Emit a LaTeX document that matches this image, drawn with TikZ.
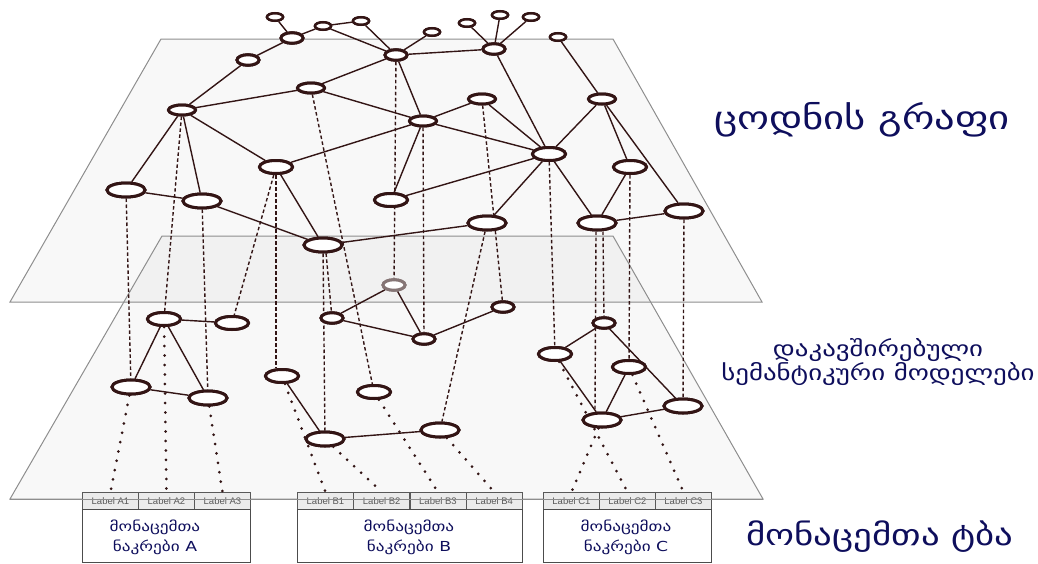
\documentclass[tikz,border=0pt]{standalone}
\usepackage{fontspec}
\newfontfamily\geo[FakeStretch=1.25]{DejaVu Sans}
\newfontfamily\labfont{Liberation Sans}
\usetikzlibrary{shapes.geometric}
\definecolor{ink}{HTML}{331515}
\definecolor{navy}{HTML}{0E0E5C}
\definecolor{planeedge}{HTML}{8E8E8E}
\definecolor{cellfill}{HTML}{EBEBEB}
\definecolor{faded}{HTML}{857575}

\tikzset{
  vert/.style={ellipse, draw=ink, line width=3pt, fill=white, inner sep=0pt},
  vxs/.style={vert, minimum width=16pt, minimum height=7.5pt, line width=2.5pt},
  vs/.style={vert, minimum width=22pt, minimum height=10.5pt},
  vm/.style={vert, minimum width=27pt, minimum height=10pt},
  vml/.style={vert, minimum width=33pt, minimum height=13pt},
  vl/.style={vert, minimum width=38pt, minimum height=14pt},
  link/.style={draw=ink, line width=1.4pt},
  proj/.style={draw=ink, line width=1.4pt, dash pattern=on 3.5pt off 2.5pt},
  feed/.style={draw=ink, line width=3pt, line cap=round, dash pattern=on 0pt off 9.5pt},
  plane/.style={fill=black, fill opacity=0.028, draw=planeedge, line width=1pt},
  cell/.style={draw=black!65, fill=cellfill, line width=0.9pt, minimum height=17pt,
    inner sep=0pt, anchor=north west, text=black!65, font=\labfont\fontsize{9.5}{10}\selectfont},
  setbox/.style={draw=black!70, line width=0.9pt, fill=white, anchor=north west, inner sep=0pt},
  settext/.style={text=navy, align=center, font=\geo\fontsize{13.8}{20}\selectfont},
  title/.style={text=navy, align=center},
}

\begin{document}
\begin{tikzpicture}[x=1pt,y=-1pt]
\useasboundingbox (0,0) rectangle (1038,563);

% the two layers
\path[plane] (161,39) -- (613,39) -- (762,302) -- (10,302) -- cycle;
\path[plane] (162,236) -- (613,236) -- (763,499) -- (10,499) -- cycle;

% knowledge graph nodes (upper layer)
\node[vxs] (t1)  at (275,17)  {};
\node[vs]  (t2)  at (292,38)  {};
\node[vxs] (t3)  at (323,26)  {};
\node[vs]  (t4)  at (248,60)  {};
\node[vm]  (t5)  at (311,88)  {};
\node[vm]  (t6)  at (182,110) {};
\node[vml] (t7)  at (276,167) {};
\node[vl]  (t8)  at (126,190) {};
\node[vl]  (t9)  at (202,201) {};
\node[vl]  (t10) at (323,245) {};
\node[vxs] (t11) at (361,21)  {};
\node[vs]  (t12) at (396,55)  {};
\node[vxs] (t13) at (432,32)  {};
\node[vxs] (t14) at (467,23)  {};
\node[vxs] (t15) at (500,15)  {};
\node[vxs] (t16) at (531,17)  {};
\node[vs]  (t17) at (494,49)  {};
\node[vxs] (t18) at (558,37)  {};
\node[vm]  (t19) at (482,99)  {};
\node[vm]  (t20) at (423,121) {};
\node[vm]  (t21) at (602,99)  {};
\node[vml] (t22) at (549,154) {};
\node[vml] (t23) at (630,167) {};
\node[vml] (t24) at (391,200) {};
\node[vl]  (t25) at (487,223) {};
\node[vl]  (t26) at (597,223) {};
\node[vl]  (t27) at (684,211) {};

% semantic model nodes (lower layer)
\node[vml] (l1)  at (164,319) {};
\node[vml] (l2)  at (232,323) {};
\node[vl]  (l3)  at (131,387) {};
\node[vl]  (l4)  at (208,398) {};
\node[vml] (l5)  at (282,376) {};
\node[vl]  (l6)  at (325,439) {};
\node[vs]  (l7)  at (332,318) {};
\node[vs, draw=faded] (l8) at (394,285) {};
\node[vs]  (l9)  at (424,339) {};
\node[vs]  (l10) at (503,307) {};
\node[vml] (l11) at (374,392) {};
\node[vl]  (l12) at (440,430) {};
\node[vml] (l13) at (555,354) {};
\node[vs]  (l14) at (604,323) {};
\node[vml] (l15) at (629,367) {};
\node[vl]  (l16) at (602,420) {};
\node[vl]  (l17) at (683,406) {};

% data sets
\foreach \n/\x/\t in {a1/82/A1, a2/138/A2, a3/194/A3,
                      b1/297/B1, b2/353.25/B2, b3/409.5/B3, b4/465.75/B4,
                      c1/543/C1, c2/599/C2, c3/655/C3}
  \node[cell, minimum width=56pt] (\n) at (\x,492) {Label \t};
\node[setbox, minimum width=168pt, minimum height=53pt] (boxA) at (82,509) {};
\node[setbox, minimum width=225pt, minimum height=53pt] (boxB) at (297,509) {};
\node[setbox, minimum width=168pt, minimum height=53pt] (boxC) at (543,509) {};
\node[settext] (txA) at (155,537) {მონაცემთა\\ნაკრები A};
\node[settext] (txB) at (409,537) {მონაცემთა\\ნაკრები B};
\node[settext] (txC) at (626,537) {მონაცემთა\\ნაკრები C};
% front edge of the lower layer runs over the label strip
\draw[planeedge, line width=1pt] (10,499) -- (763,499);

% projections between the layers
\foreach \a/\b in {t8/l3, t6/l1, t9/l4, t7/l2, t5/l11, t10/l6, t12/l8,
                   t20/l9, t19/l10, t25/l12, t22/l13, t23/l15, t27/l17}
  \path[proj] (\a) -- (\b);
\path[proj] (t7) -- ([xshift=-6pt]l5.north);
\path[proj] (t10.-70) -- (l7);
\path[proj] ([xshift=-1pt]t26.south) -- ([xshift=-7pt]l16.north);
\path[proj] ([xshift=6pt]t26.south) -- (l14);

% feeds from the data sets
\foreach \a/\b in {l3/a1, l1/a2, l4/a3, l5/b1, l6/b2, l11/b3, l12/b4,
                   l16/c1, l13/c2, l15/c3}
  \path[feed] (\a) -- (\b.north);

% graph edges
\foreach \a/\b in {t1/t2, t2/t3, t2/t4, t4/t6, t3/t11, t3/t12, t11/t12,
                   t6/t5, t6/t8, t6/t9, t6/t7, t8/t9, t9/t10, t7/t10, t7/t20,
                   t5/t12, t5/t20, t10/t25, t12/t13, t12/t17, t12/t20,
                   t17/t14, t17/t15, t17/t16, t17/t22, t18/t21, t19/t20,
                   t19/t22, t20/t22, t20/t24, t24/t22, t22/t21, t22/t25,
                   t22/t26, t21/t23, t21/t27, t23/t26, t26/t27,
                   l1/l2, l1/l3, l1/l4, l3/l4, l5/l6, l6/l12, l7/l8, l8/l9,
                   l7/l9, l9/l10, l13/l14, l13/l16, l14/l17, l15/l16, l16/l17}
  \path[link] (\a) -- (\b);

% redraw the vertices above their connectors
\foreach \n/\s in {t1/vxs, t2/vs, t3/vxs, t4/vs, t5/vm, t6/vm, t7/vml, t8/vl,
                   t9/vl, t10/vl, t11/vxs, t12/vs, t13/vxs, t14/vxs, t15/vxs,
                   t16/vxs, t17/vs, t18/vxs, t19/vm, t20/vm, t21/vm, t22/vml,
                   t23/vml, t24/vml, t25/vl, t26/vl, t27/vl,
                   l1/vml, l2/vml, l3/vl, l4/vl, l5/vml, l6/vl, l7/vs, l9/vs,
                   l10/vs, l11/vml, l12/vl, l13/vml, l14/vs, l15/vml, l16/vl, l17/vl}
  \node[\s] at (\n) {};
\node[vs, draw=faded] at (l8) {};

% layer titles
\node[title, font=\geo\fontsize{32.5}{36}\selectfont] (ttl1) at (862,120) {ცოდნის გრაფი};
\node[title, font=\geo\fontsize{21.5}{23}\selectfont] (ttl2) at (878,362) {დაკავშირებული\\სემანტიკური მოდელები};
\node[title, font=\geo\fontsize{29.5}{36}\selectfont] (ttl3) at (880,537) {მონაცემთა ტბა};
\end{tikzpicture}
\end{document}
